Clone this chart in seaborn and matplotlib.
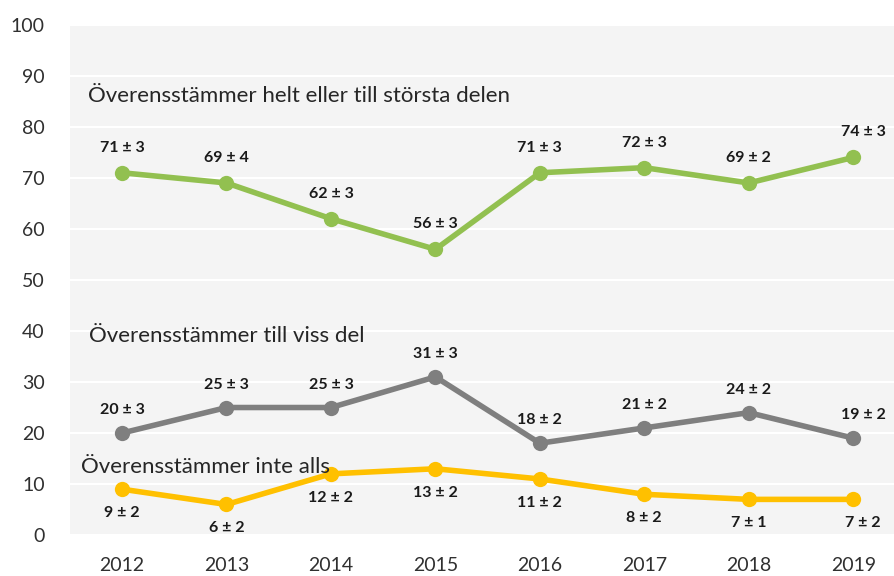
import pandas as pd
import matplotlib.pyplot as plt
import seaborn as sns

# ### Data
years = ['2012', '2013', '2014', '2015', '2016', '2017', '2018', '2019']
helt = [71, 69, 62, 56, 71, 72, 69, 74]
helt_err = [3, 4, 3, 3, 3, 3, 2, 3]
viss = [20, 25, 25, 31, 18, 21, 24, 19]
viss_err = [3, 3, 3, 3, 2, 2, 2, 2]
inte = [9, 6, 12, 13, 11, 8, 7, 7]
inte_err = [2, 2, 2, 2, 2, 2, 1, 2]

names = ['Överensstämmer helt eller till största delen',
         'Överensstämmer till viss del',
         'Överensstämmer inte alls']

df = pd.DataFrame({'year': years * 3,
                   'value': helt + viss + inte,
                   'err': helt_err + viss_err + inte_err,
                   'group': [names[0]] * 8 + [names[1]] * 8 + [names[2]] * 8})

colors = {names[0]: '#92c050', names[1]: '#7f7f7f', names[2]: '#ffc000'}

sns.set_style("whitegrid", {'axes.facecolor': '#f4f4f4', 'grid.color': 'white',
                            'axes.edgecolor': '#f4f4f4'})
plt.rcParams['font.family'] = ['Lato', 'DejaVu Sans']

fig = plt.figure(figsize=(8.95, 5.76), dpi=100)
ax = fig.add_axes([0.078, 0.071, 0.922, 0.886])

x_pos = {y: i for i, y in enumerate(years)}
df['x'] = df.year.map(x_pos)

sns.lineplot(data=df, x='x', y='value', hue='group', palette=colors, marker='o',
             markersize=11, markeredgewidth=0, linewidth=4, legend=False, ax=ax)

# data labels, green/grey above the point, yellow below
offsets = {names[0]: 25, names[1]: 23, names[2]: -24}
for _, row in df.iterrows():
    dx = 10 if row.x == 7 else 0
    ax.annotate(f"{row.value} ± {row.err}", (row.x, row.value),
                xytext=(dx, offsets[row.group]), textcoords='offset pixels',
                ha='center', va='center', fontsize=11.5, fontweight='bold', color='#1a1a1a')

# series names written in the plot
ax.text(-0.33, 86, names[0], fontsize=16, color='#262626', va='center')
ax.text(-0.32, 39, names[1], fontsize=16, color='#262626', va='center')
ax.text(-0.39, 13.3, names[2], fontsize=16, color='#262626', va='center')

ax.set_ylim(0, 100)
ax.set_yticks(range(0, 101, 10))
ax.set_xlim(-0.5, 7.4)
ax.set_xticks(range(len(years)))
ax.set_xticklabels(years)
ax.grid(axis='x', visible=False)
ax.grid(axis='y', color='white', linewidth=1.5)
ax.tick_params(axis='both', length=0, labelsize=14, colors='#303030')
ax.tick_params(axis='y', pad=18)
ax.tick_params(axis='x', pad=16)
for s in ax.spines.values():
    s.set_visible(False)
ax.set(xlabel='', ylabel='')

plt.savefig("out.png", dpi=100)
